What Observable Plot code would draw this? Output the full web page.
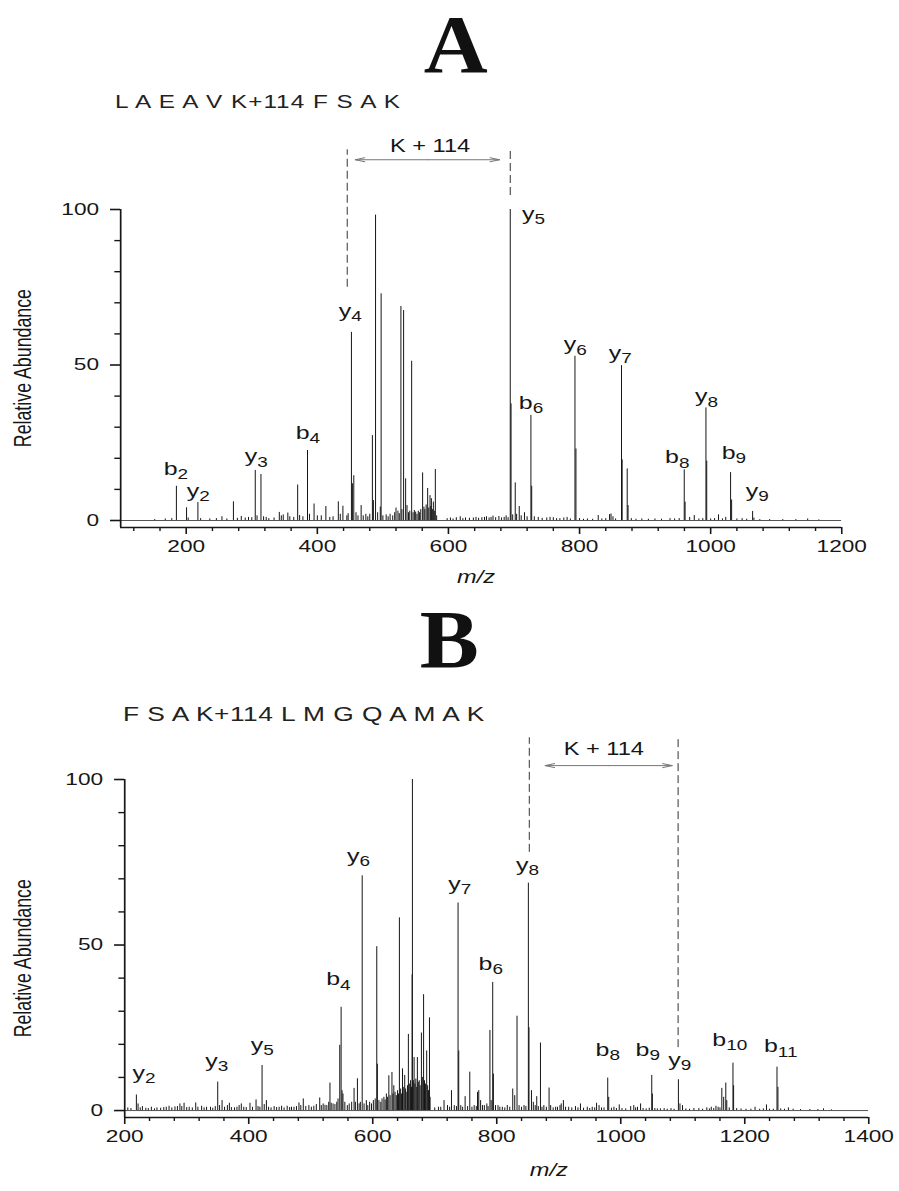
<!DOCTYPE html>
<html>
<head>
<meta charset="utf-8">
<script src="https://cdn.jsdelivr.net/npm/d3@7"></script>
<script src="https://cdn.jsdelivr.net/npm/@observablehq/plot@0.6"></script>
<style>
  body { margin: 0; background: #fff; }
  #page { position: relative; width: 899px; height: 1191px; overflow: hidden; background: #fff; }
  .title { position: absolute; left: 0; width: 899px; text-align: center; font-family: "Liberation Serif", "Times New Roman", serif; font-weight: bold; font-size: 82px; line-height: 1; color: #111; }
  .title span { display: inline-block; transform: scaleX(1.08); }
  .seq { position: absolute; font-family: "Liberation Sans", Arial, sans-serif; line-height: 1; white-space: pre; color: #222; transform-origin: 0 0; transform: scaleX(1.35); }
  .panel { position: absolute; left: 0; }
  svg.stretched line, svg.stretched path { vector-effect: non-scaling-stroke; }
</style>
</head>
<body>
<div id="page">
  <div class="title" style="top:4px;padding-left:13px;box-sizing:border-box;"><span>A</span></div>
  <div class="seq" id="seqA" style="left:115px;top:93px;font-size:18px;letter-spacing:0.75px;"></div>
  <div class="panel" id="panelA" style="top:125px;"></div>
  <div class="title" style="top:599px;"><span>B</span></div>
  <div class="seq" id="seqB" style="left:123px;top:705px;font-size:19.5px;letter-spacing:0.35px;"></div>
  <div class="panel" id="panelB" style="top:730px;"></div>
</div>
<script>
// ---------------- data ----------------
const sequenceA = "L A E A V K+114 F S A K";
const sequenceB = "F S A K+114 L M G Q A M A K";

const xDomainA = [100, 1200];
const yDomainA = [-2.25, 100];
const xDomainB = [200, 1400];
const yDomainB = [-2.1, 100];

const xMajorA = [200, 400, 600, 800, 1000, 1200];
const xMinorA = [120, 160, 240, 280, 320, 360, 440, 480, 520, 560, 640, 680, 720, 760, 840, 880, 920, 960, 1040, 1080, 1120, 1160];
const xMajorB = [200, 400, 600, 800, 1000, 1200, 1400];
const xMinorB = [240, 280, 320, 360, 440, 480, 520, 560, 640, 680, 720, 760, 840, 880, 920, 960, 1040, 1080, 1120, 1160, 1240, 1280, 1320, 1360];
const yMajor = [0, 50, 100];
const yMinor = [10, 20, 30, 40, 60, 70, 80, 90];

// peaks: [m/z, relative abundance]
const peaksA = [
[152,0.3],[168,0.5],[178,0.6],
[185,11],[200.5,4.1],[203,0.8],[217.8,5.8],[222,0.6],[236,0.5],[246,0.6],[254.5,1.2],[262,0.5],[272,6.0],[278,0.7],[284,1.3],[290,0.8],[295,1.0],[300,0.9],[305.3,16.1],[308,1.5],[314,14.8],[318,1.2],[322,1.0],[326,0.6],[334,0.8],[342,2.6],[345,1.5],[348,1.8],[355,2.4],[358,1.2],[364,1.0],[370,11.4],[373,1.6],[378,1.2],[385,22.5],[388,2.0],[395,5.3],[400,1.5],[406,1.5],[413,4.5],[419,1.0],[424,1.2],[432,6.0],[435,2.0],[439,4.6],[445,1.5],[447,2.2],
[452,60.5],[453.5,11.8],[455.6,14.4],[459,2.5],[462,1.5],[466.8,4.8],[470,1.5],[474,2.0],[477,1.2],[480,2.0],[484,27.3],[485.5,6.4],[488.8,98.2],[492,2.5],[496,4.3],[497.3,72.9],[500,1.5],[505,1.8],[508,1.2],[511,2.0],[515,1.5],[518,2.5],[520,4.0],[523,3.0],[525,2.2],[527.5,68.8],[529,3.5],[531.6,67.5],[534.7,13.4],[536.8,4.8],[539,2.5],[541,3.0],[543.9,51.2],[546,2.5],[548,3.2],[550,2.7],[552,2.0],[554,3.0],[556,2.5],[557.8,3.5],[560.6,15.3],[562.6,4.3],[564,3.5],[566,5.0],[568.3,10.3],[570,4.0],[571.9,8.0],[573,4.5],[574,7.0],[575.5,3.5],[577,5.9],[578.5,3.0],[580,16.4],[582,1.5],
[598,0.6],[603,0.8],[607,0.5],[612,0.9],[618,1.2],[622,0.6],[626,0.8],[632,0.7],[638,0.8],[642,1.0],[646,0.7],[651,0.9],[655,1.0],[658,1.2],[662,0.8],[665,1.0],[668,1.4],[672,0.9],[677,1.3],[681,0.8],[685,1.0],[688,1.5],[691,0.9],
[694.3,100],[695.5,37.5],[698,1.8],[701.9,12.1],[704,2.0],[708,4.5],[711,1.5],[716,2.5],[720,1.2],[725.8,33.8],[727,11],[731,1.2],[737,1.0],[743,0.7],[750,0.8],[755,1.0],[760,0.9],[765,0.6],[770,0.6],[776,0.8],[781,1.0],[786,0.5],
[793,52.8],[794.5,23],[800,0.6],[806,0.4],[812,0.5],[820,0.4],[828.5,1.6],[834,0.5],[840,0.6],[845.8,1.9],[848,2.1],[851,1.2],[855,0.5],[864,49.8],[865,19.5],[872.7,16.6],[874,4.8],[879,0.6],[886,0.4],[895,0.5],[905,0.4],[915,0.5],[925,0.4],[938,0.6],[945,0.5],[952,0.6],
[959.7,16.3],[961,5.9],[968,1.0],[975,1.6],[982,0.5],[988,0.6],[992.8,36.2],[994,19.1],[1000,0.5],[1006,0.6],[1012,1.8],[1018,0.5],[1023,1.0],[1030.4,15.4],[1032,6.6],[1040,0.5],[1048,0.6],[1055,0.4],[1064,2.9],[1066,0.8],[1075,0.3],[1090,0.3],[1110,0.3],[1130,0.3],[1148,0.5],[1165,0.2]
];

const peaksB = [
[205,0.8],[210,0.6],[218.8,4.7],[221.5,2.0],[225,0.8],[228.5,1.2],[234,0.7],[238,0.6],[243,1.0],[248,0.5],[252,0.8],[258,0.7],[263,0.9],[267,1.0],[271.5,1.3],[276,0.8],[281,1.1],[285,1.2],[289,2.0],[292,1.2],[295.7,2.2],[300,0.9],[304,1.0],[309,0.8],[314.5,2.3],[318,1.0],[324,1.3],[328,0.8],[332,1.0],[338.4,1.0],[342,0.7],[346,1.2],
[350,8.6],[353,1.5],[357,3.0],[361,1.0],[365.6,1.5],[368.8,2.2],[372,0.9],[377,0.8],[381,1.0],[384.5,1.5],[388,2.0],[392,1.0],[396,0.9],[402,2.2],[406,1.0],[411.8,3.2],[415,1.2],[418,1.0],[421.5,13.6],[425,1.8],[428.5,3.0],[432,1.0],[436,0.8],[441,1.2],[445,0.9],[449,1.0],[453,1.3],[457,0.8],[462,1.3],[466,0.9],[469,1.0],[473,1.0],[477,1.2],[481,2.3],[484,1.5],[488,3.5],[492,1.2],[497,1.5],[501,1.0],[505,1.3],[509,1.8],[514.5,3.8],[517,1.5],[520,2.0],[523,1.6],[526,1.5],[529,2.5],[531,8.3],[533,2.2],[536,2.0],[539,1.8],[542,2.5],[544,3.5],
[546.8,19.7],[549,31.2],[550.5,6],[552,5.0],[555,2.5],[559,1.5],[562,2.0],[566,2.5],[569.9,6.7],[572,2.5],[575.3,9.6],[578,2.0],[580,2.5],[583,70.9],[586,2.0],[589.7,3.0],[592,1.5],[595,2.5],[598,2.0],[601,3.0],[604,3.5],[606.5,49.5],[607.5,14],[610,3.0],[613,2.5],[615,3.5],[618,4.0],[620,3.2],[622,5.0],[624,4.0],[626,10.5],[628,4.5],[631,11.5],[632.5,5],[634,7.5],[636,5.5],[638,4.5],[640,6.0],[641.5,5.0],
[643,58.2],[645,6.5],[646.5,5],[648,12.6],[650,7],[651.6,10.6],[653,6.5],[655,5.5],[656,7.5],[657.5,23],[659,8],[661,9],[662.5,7],[663.5,41],[664,100],[665.5,9],[666.7,16],[668,8],[669.5,9.5],[671,7],[672,16],[673.5,8.5],[675,9],[676.5,7.5],[678.5,23.4],[680,10],[682,35],[683.5,9],[685,8],[687,18],[688.5,7.5],[690,6],[691.5,28],[692.5,4],
[700,0.8],[706,1.0],[709.7,1.0],[715,3.0],[720.6,1.5],[724,1.0],[727,6.0],[731.5,1.5],[735,1.2],[737.6,62.7],[738.7,18],[742,1.5],[745,1.0],[749,4.2],[753,1.2],[756.5,11.6],[760,1.0],[763.6,1.5],[767,1.2],[769,5.5],[771,6.0],[774,3.0],[777,1.5],[780,1.5],[784,2.0],[786,1.2],
[789,24.2],[791,3],[793.5,38.7],[794.6,11],[798,1.5],[802,1.5],[805,1.0],[809,1.0],[813,0.8],[817,1.5],[821,1.0],[825.8,6.5],[829,4.5],[832.7,28.5],[836,1.5],[840,1.0],[844,1.5],[847,1.2],[851,68.7],[852,25],[856,6.0],[859,2.5],[862,1.5],[864.5,4.2],[867,1.2],[870.5,20.4],[873,1.0],[876,1.5],[880,1.0],[884.4,6.8],[887,1.5],[891,0.8],[895,1.0],[898,1.0],[902,1.5],[904,2.0],[907.5,3.0],[911,1.0],[916,1.0],[921,0.8],[927,1.2],[931,0.8],[935,2.0],[940,0.7],[946,1.0],[950,0.6],[954,1.0],[958,0.8],[961,2.2],[965,1.5],[969,0.8],[973,0.8],
[979,9.8],[980.6,4.0],[985,0.7],[989,1.0],[993,0.6],[997.6,1.7],[1002,0.6],[1008,0.5],[1016,1.2],[1021,1.5],[1024,0.8],[1027,1.0],[1032,2.0],[1036,0.6],[1041,0.5],[1046,0.7],[1050,10.6],[1051,5.0],[1055,0.6],[1059,0.5],[1064,0.5],[1070,0.6],[1075,0.4],[1081,0.6],[1086,0.4],[1093,9.3],[1095.5,2.0],[1099.6,1.5],[1105,0.5],[1111,0.4],[1118,0.6],[1126,0.6],[1132,0.4],[1138.8,0.8],[1143,0.5],[1146,1.0],[1150,0.6],[1153.5,1.3],[1157,1.0],[1160,0.8],
[1163,6.7],[1166,4.0],[1169.4,8.3],[1171,3.0],[1175,0.8],[1181,14.3],[1182,7.5],[1187,0.6],[1194,0.5],[1202,0.4],[1210,0.4],[1216.6,1.0],[1224,0.4],[1230,0.5],[1235,1.7],[1240,0.4],[1246,0.4],[1252,13.1],[1253.5,7.0],[1258,0.5],[1264,0.4],[1270.4,0.8],[1278,0.4],[1290,0.3],[1305,0.3],[1318,0.3],[1327,0.5],[1340,0.2]
];

// ion labels: [ion, m/z, abundance] (label anchor in data space)
const labelsA = [["b2",184.3,14.7],["y2",218.3,7.7],["y3",306.8,18.7],["b4",385.6,26.3],["y4",450.2,65.4],["y5",729.9,96.7],["b6",725.9,35.9],["y6",793.4,54.7],["y7",862.1,52.0],["b8",949,18.4],["y8",993.8,38],["b9",1035.5,19.8],["y9",1071,7.7]];
const labelsB = [["y2",231,9.6],["y3",348.4,13.1],["y5",422,18.1],["b4",544.6,37.8],["y6",577,75],["y7",740.3,66.7],["b6",790.3,42.5],["y8",849.5,72.5],["b8",979,16.6],["b9",1043.5,16.6],["y9",1095.2,13.6],["b10",1175.8,19.6],["b11",1258,17.6]];

// K+114 annotation: dashed lines [m/z, from, to], arrow [left, right, level], text [m/z, level]
const dashesA = [[445.6, 75, 119.2], [694.3, 104.5, 119.8]];
const arrowA = [457.8, 678, 116];
const noteA = [572, 118.4];
const dashesB = [[852.5, 78, 112.6], [1092.5, 19, 112.6]];
const arrowB = [878, 1083, 104.2];
const noteB = [972.6, 107.3];

const axisTitleA = [642, 49];   // m/z label x, y-title centre
const axisTitleB = [884, 46];

// ---------------- drawing ----------------
const W = 666;                 // plot width before horizontal stretch
const SCREEN_W = 899;
const FONT = "'Liberation Sans', Arial, Helvetica, sans-serif";
const INK = "#161616";

document.getElementById("seqA").textContent = sequenceA;
document.getElementById("seqB").textContent = sequenceB;

function spectrum({peaks, labels, dashes, arrow, note, xDomain, yDomain, xMajor, xMinor, titles, height, margins, yTitleDx, mzDy}) {
  const mid = (arrow[0] + arrow[1]) / 2;
  const arrows = [[mid, arrow[0], arrow[2]], [mid, arrow[1], arrow[2]]];
  return Plot.plot({
    width: W,
    height,
    marginTop: margins[0], marginRight: margins[1], marginBottom: margins[2], marginLeft: margins[3],
    x: {domain: xDomain},
    y: {domain: yDomain},
    style: {fontFamily: FONT, color: INK, background: "transparent", overflow: "visible"},
    marks: [
      Plot.ruleY([0], {x1: xDomain[0], x2: xDomain[1], stroke: "#555", strokeWidth: 1}),
      Plot.ruleX(peaks, {x: d => d[0], y1: 0, y2: d => d[1], stroke: INK, strokeWidth: 1}),
      Plot.ruleX([xDomain[0]], {y1: yDomain[0], y2: yDomain[1], stroke: INK, strokeWidth: 1.7}),
      Plot.ruleY([yDomain[0]], {x1: xDomain[0], x2: xDomain[1], stroke: INK, strokeWidth: 1.7}),
      Plot.axisX(xMajor, {tickSize: 7, tickPadding: 5.5, fontSize: 16.8, strokeWidth: 1.6, label: null, tickFormat: d => String(d)}),
      Plot.axisX(xMinor, {tickSize: 4, strokeWidth: 1.4, fill: "none", label: null}),
      Plot.axisY(yMajor, {tickSize: 7.4, tickPadding: 8.6, fontSize: 16.8, strokeWidth: 1.6, label: null, tickFormat: d => String(d)}),
      Plot.axisY(yMinor, {tickSize: 4.2, strokeWidth: 1.4, fill: "none", label: null}),
      Plot.ruleX(dashes, {x: d => d[0], y1: d => d[1], y2: d => d[2], stroke: "#333", strokeWidth: 1, strokeDasharray: "8,4"}),
      Plot.arrow(arrows, {x1: d => d[0], x2: d => d[1], y1: d => d[2], y2: d => d[2], stroke: "#777", strokeWidth: 1, headLength: 11, headAngle: 32}),
      Plot.text([note], {x: d => d[0], y: d => d[1], text: () => "K + 114", fontSize: 17.5, lineAnchor: "bottom", fill: INK}),
      Plot.text(labels, {x: d => d[1], y: d => d[2], text: d => d[0], fontSize: 18.5, lineAnchor: "bottom", fill: INK}),
      Plot.text([titles], {x: d => d[0], frameAnchor: "bottom", dy: mzDy, textAnchor: "middle", lineAnchor: "middle", text: () => "m/z", fontStyle: "italic", fontSize: 17.5, fill: INK}),
      Plot.text([titles], {y: d => d[1], frameAnchor: "left", dx: yTitleDx, rotate: -90, textAnchor: "middle", lineAnchor: "middle", text: () => "Relative Abundance", fontSize: 17.8, fill: INK})
    ]
  });
}

function finish(svg, height) {
  svg.setAttribute("width", SCREEN_W);
  svg.setAttribute("height", height);
  svg.setAttribute("preserveAspectRatio", "none");
  svg.style.width = SCREEN_W + "px";
  svg.style.height = height + "px";
  svg.style.maxWidth = "none";
  svg.classList.add("stretched");
  const ns = "http://www.w3.org/2000/svg";
  svg.querySelectorAll("text").forEach(t => {
    const s = t.textContent;
    if (/^[by]\d+$/.test(s)) {
      t.textContent = "";
      const a = document.createElementNS(ns, "tspan");
      a.textContent = s[0];
      const b = document.createElementNS(ns, "tspan");
      b.textContent = s.slice(1);
      b.setAttribute("font-size", "0.76em");
      b.setAttribute("dy", "0.3em");
      t.append(a, b);
    }
  });
  return svg;
}

const hA = 470, hB = 461;
const svgA = spectrum({
  peaks: peaksA, labels: labelsA, dashes: dashesA, arrow: arrowA, note: noteA,
  xDomain: xDomainA, yDomain: yDomainA, xMajor: xMajorA, xMinor: xMinorA, titles: axisTitleA,
  height: hA, margins: [84, 42.9, 68, 88.9], yTitleDx: -71.9, mzDy: 50
});
document.getElementById("panelA").append(finish(svgA, hA));

const svgB = spectrum({
  peaks: peaksB, labels: labelsB, dashes: dashesB, arrow: arrowB, note: noteB,
  xDomain: xDomainB, yDomain: yDomainB, xMajor: xMajorB, xMinor: xMinorB, titles: axisTitleB,
  height: hB, margins: [49, 22.9, 74, 91.9], yTitleDx: -74.9, mzDy: 53
});
document.getElementById("panelB").append(finish(svgB, hB));
</script>
</body>
</html>
